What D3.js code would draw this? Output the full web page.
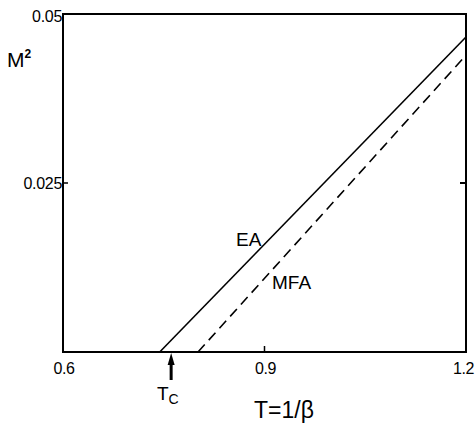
<!DOCTYPE html>
<html><head><meta charset="utf-8">
<script src="https://cdn.jsdelivr.net/npm/d3@7"></script>
<style>body{margin:0;background:#fff}svg{display:block}text{font-family:"Liberation Sans",Arial,sans-serif;fill:#000}</style>
</head><body>
<svg id="c" width="475" height="430"></svg>
<script>
const xTicks = [0.6, 0.9, 1.2];
const xTickLabels = ["0.6", "0.9", "1.2"];
const yTicks = [0.025, 0.05];
const yTickLabels = ["0.025", "0.05"];
const eaT = [0.744, 1.2];
const eaM2 = [0, 0.0466];
const mfaT = [0.801, 1.2];
const mfaM2 = [0, 0.0439];
const Tc = 0.761;

const svg = d3.select("#c");
const L = 63, R = 466, T = 14, B = 352;
const x = d3.scaleLinear().domain([0.6, 1.2]).range([L, R]);
const y = d3.scaleLinear().domain([0, 0.05]).range([B, T]);

// frame
svg.append("rect").attr("x", L).attr("y", T).attr("width", R - L).attr("height", B - T)
  .attr("fill", "none").attr("stroke", "#000").attr("stroke-width", 2);

// inner ticks
svg.append("line").attr("x1", x(0.9)).attr("x2", x(0.9)).attr("y1", B).attr("y2", B - 6).attr("stroke", "#000").attr("stroke-width", 1.5);
svg.append("line").attr("x1", L).attr("x2", L + 5).attr("y1", y(0.025)).attr("y2", y(0.025)).attr("stroke", "#000").attr("stroke-width", 1.5);
svg.append("line").attr("x1", R).attr("x2", R - 6).attr("y1", y(0.025)).attr("y2", y(0.025)).attr("stroke", "#000").attr("stroke-width", 2);

// tick labels
xTicks.forEach((v, i) => {
  const t = svg.append("text").attr("y", 374).attr("font-size", 16).attr("letter-spacing", -0.4).text(xTickLabels[i]);
  if (i === 2) t.attr("x", 474).attr("text-anchor", "end");
  else t.attr("x", x(v) + 1).attr("text-anchor", "middle");
});
yTicks.forEach((v, i) => {
  svg.append("text").attr("x", L - 1).attr("y", y(v) + (i === 1 ? 8 : 6)).attr("text-anchor", "end")
    .attr("font-size", 16).attr("letter-spacing", -0.3).text(yTickLabels[i]);
});

// lines
const line = d3.line().x(d => x(d[0])).y(d => y(d[1]));
svg.append("path").attr("d", line(eaT.map((t, i) => [t, eaM2[i]])))
  .attr("fill", "none").attr("stroke", "#000").attr("stroke-width", 1.6);
svg.append("path").attr("d", line(mfaT.map((t, i) => [t, mfaM2[i]])))
  .attr("fill", "none").attr("stroke", "#000").attr("stroke-width", 1.6).attr("stroke-dasharray", "10,6");

// series labels
svg.append("text").attr("x", 236).attr("y", 246).attr("font-size", 19).text("EA");
svg.append("text").attr("x", 272).attr("y", 289).attr("font-size", 19).text("MFA");

// Tc arrow
const ax = x(Tc);
svg.append("line").attr("x1", ax).attr("x2", ax).attr("y1", 362).attr("y2", 380).attr("stroke", "#000").attr("stroke-width", 3);
svg.append("path").attr("d", `M${ax - 3.5},${365} L${ax},${353} L${ax + 3.5},${365} Z`).attr("fill", "#000");
const tc = svg.append("text").attr("x", 157).attr("y", 400).attr("font-size", 19);
tc.append("tspan").text("T");
tc.append("tspan").attr("dy", 4).attr("font-size", 14).text("C");

// axis titles
svg.append("text").attr("x", 7).attr("y", 67).attr("font-size", 21).text("M")
  .append("tspan").attr("dy", -9).attr("font-size", 12).attr("font-weight", "bold").text("2");
svg.append("text").attr("x", 254).attr("y", 418).attr("font-size", 23).text("T=1/β");
</script>
</body></html>
